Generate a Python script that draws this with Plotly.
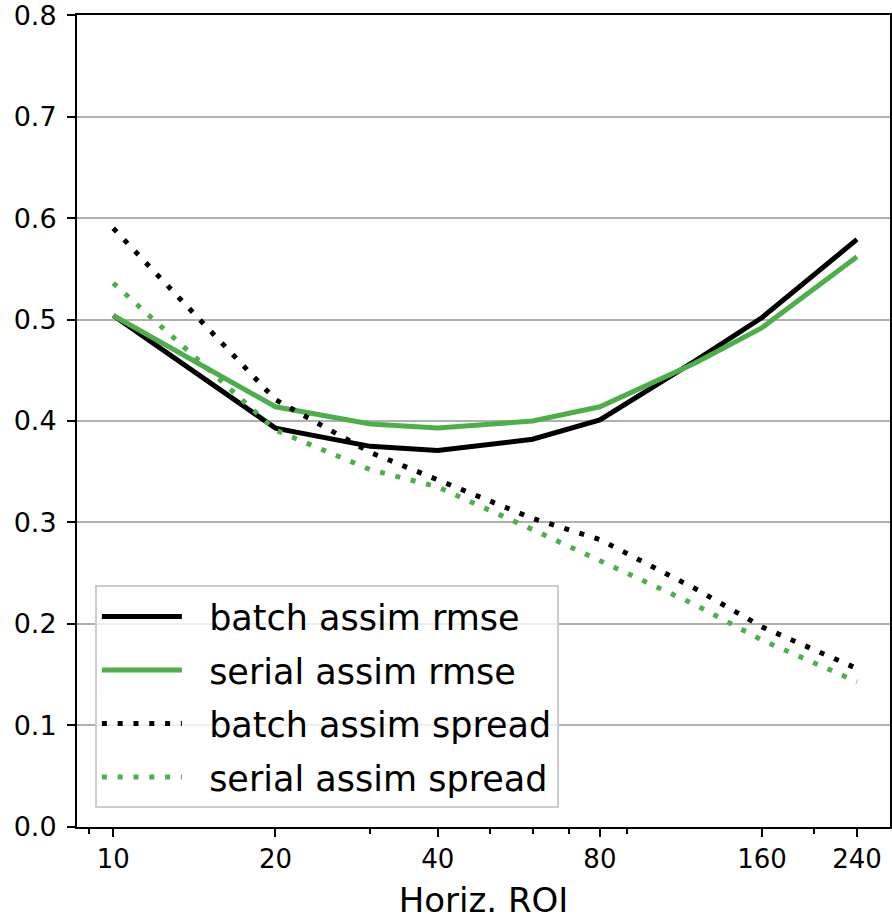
import plotly.graph_objects as go

roi = [10, 20, 30, 40, 60, 80, 120, 160, 240]
batch_rmse = [0.504, 0.393, 0.375, 0.371, 0.382, 0.401, 0.459, 0.502, 0.579]
serial_rmse = [0.504, 0.414, 0.397, 0.393, 0.400, 0.414, 0.457, 0.492, 0.562]
batch_spread = [0.590, 0.421, 0.369, 0.342, 0.304, 0.283, 0.235, 0.197, 0.156]
serial_spread = [0.536, 0.391, 0.352, 0.335, 0.293, 0.262, 0.219, 0.184, 0.143]

x_ticks = [10, 20, 40, 80, 160, 240]
x_minor = [9, 30, 50, 60, 70, 90, 200]
y_ticks = [0.0, 0.1, 0.2, 0.3, 0.4, 0.5, 0.6, 0.7, 0.8]

BLACK = "#000000"
GREEN = "#4daf4a"
FONT = "DejaVu Sans"
NB = "\u00a0\u00a0"

fig = go.Figure()
series = [
    ("batch assim rmse", batch_rmse, BLACK, "solid"),
    ("serial assim rmse", serial_rmse, GREEN, "solid"),
    ("batch assim spread", batch_spread, BLACK, "5px,10.8px"),
    ("serial assim spread", serial_spread, GREEN, "5px,10.8px"),
]
for i, (name, vals, col, dash) in enumerate(series):
    fig.add_trace(go.Scatter(
        x=roi, y=vals, mode="lines", name=NB + name, legendgroup=f"g{i}",
        line=dict(color=col, width=5, dash=dash),
    ))

fig.update_layout(
    width=892, height=920,
    margin=dict(l=77, r=2, t=15, b=93),
    paper_bgcolor="white", plot_bgcolor="white",
    font=dict(family=FONT, color="black"),
    showlegend=True,
    legend=dict(
        x=0.022, y=0.023, xanchor="left", yanchor="bottom",
        bgcolor="rgba(255,255,255,0.8)", bordercolor="#cccccc", borderwidth=2,
        font=dict(size=35, family=FONT, color="black"),
        tracegroupgap=5, itemwidth=80,
    ),
    xaxis=dict(
        type="log", range=[0.9327, 2.4415], automargin=False,
        tickmode="array", tickvals=x_ticks, ticktext=[str(v) for v in x_ticks],
        ticks="outside", ticklen=8, tickwidth=2, tickcolor="black",
        tickfont=dict(size=26, family=FONT, color="black"),
        showline=True, linecolor="black", linewidth=2, mirror=True,
        showgrid=False, zeroline=False,
        minor=dict(tickmode="array", tickvals=x_minor, ticks="outside",
                   ticklen=5, tickwidth=1.5, tickcolor="black", showgrid=False),
        title=dict(text="Horiz. ROI", font=dict(size=34, family=FONT, color="black"), standoff=21),
    ),
    yaxis=dict(
        range=[-0.0002, 0.8002], tickmode="array", tickvals=y_ticks, automargin=False,
        ticktext=[f"{v:.1f}" for v in y_ticks],
        ticks="outside", ticklen=8, tickwidth=2, tickcolor="black",
        tickfont=dict(size=27, family=FONT, color="black"),
        ticklabelstandoff=5, ticklabeloverflow="allow",
        showline=True, linecolor="black", linewidth=2, mirror=True,
        showgrid=True, gridcolor="#b0b0b0", gridwidth=2, zeroline=False,
    ),
)

fig.write_html("out.html", config={"displayModeBar": False},
               post_script="document.body.style.margin='0px';document.body.style.padding='0px';")
